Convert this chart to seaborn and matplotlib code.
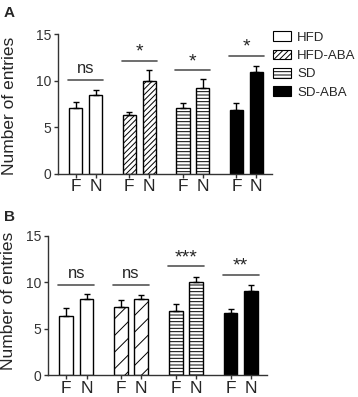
import numpy as np
import pandas as pd
import matplotlib
matplotlib.use("Agg")
import matplotlib.pyplot as plt
from matplotlib.patches import Patch
import seaborn as sns

#%% Daten

groups = ["HFD", "HFD-ABA", "SD", "SD-ABA"]
conds = ["F", "N"]

A_F = [7.1, 6.3, 7.1, 6.9]
A_N = [8.5, 10.0, 9.2, 10.9]
A_F_err = [0.6, 0.3, 0.55, 0.75]
A_N_err = [0.55, 1.15, 1.0, 0.7]
A_sig = ["ns", "*", "*", "*"]
A_sig_y = [10.1, 12.1, 11.1, 12.65]

B_F = [6.35, 7.3, 6.9, 6.7]
B_N = [8.2, 8.2, 10.05, 9.05]
B_F_err = [0.85, 0.75, 0.8, 0.45]
B_N_err = [0.5, 0.45, 0.55, 0.7]
B_sig = ["ns", "ns", "***", "**"]
B_sig_y = [9.7, 9.7, 11.7, 10.75]

yticks = [0, 5, 10, 15]

#%% Stil

sns.set_style("ticks")
plt.rcParams['font.family'] = ['Liberation Sans', 'DejaVu Sans']
plt.rcParams['hatch.linewidth'] = 0.7
axcol = "#333333"

faces = ["white", "white", "white", "black"]
hatchA = [None, "//////", "-----", None]
hatchB = [None, "//", "-----", None]

gap = 2.7
width = 0.67


def make_df(F, N, Fe, Ne):
    rows = []
    for g, grp in enumerate(groups):
        rows.append((grp, "F", g * gap, F[g], Fe[g]))
        rows.append((grp, "N", g * gap + 1, N[g], Ne[g]))
    return pd.DataFrame(rows, columns=["group", "cond", "pos", "mean", "err"])


def panel(ax, df, hatches, sig, sig_y):
    sns.barplot(data=df, x="pos", y="mean", native_scale=True, width=width,
                color="white", edgecolor="black", linewidth=1.0, errorbar=None, ax=ax)
    for i, p in enumerate(ax.patches):
        g = i // 2
        p.set_facecolor(faces[g])
        p.set_edgecolor("black")
        if hatches[g]:
            p.set_hatch(hatches[g])
    ax.errorbar(df["pos"], df["mean"], yerr=[np.zeros(len(df)), df["err"]],
                fmt="none", ecolor="black", elinewidth=1.0, capsize=2.5, capthick=1.0, zorder=1)
    for g in range(len(groups)):
        x0 = g * gap - width / 2 - 0.05
        x1 = g * gap + 1 + width / 2 + 0.05
        ax.plot([x0, x1], [sig_y[g], sig_y[g]], color="#555555", lw=1.2)
        if "*" in sig[g]:
            ax.text((x0 + x1) / 2, sig_y[g] + 0.05, sig[g], ha="center", va="bottom", fontsize=14)
        else:
            ax.text((x0 + x1) / 2, sig_y[g] + 0.45, sig[g], ha="center", va="bottom", fontsize=12)
    ax.set_xlim(-0.9, 3 * gap + 1.8)
    ax.set_ylim(0, 15)
    ax.set_yticks(yticks)
    ax.set_yticklabels([str(t) for t in yticks], fontsize=10, color=axcol)
    ax.set_xticks(df["pos"])
    ax.set_xticklabels(df["cond"], fontsize=12.5)
    ax.set_xlabel("")
    ax.set_ylabel("Number of entries", fontsize=12.5, labelpad=4)
    ax.tick_params(axis="both", length=3, width=1, color=axcol, pad=2)
    ax.tick_params(axis="x", pad=1)
    sns.despine(ax=ax)
    for s in ["left", "bottom"]:
        ax.spines[s].set_color(axcol)
        ax.spines[s].set_linewidth(1)


#%% Abbildung

fig = plt.figure(figsize=(3.58, 3.97), dpi=100)
axA = fig.add_axes([0.162, 0.562, 0.598, 0.352])
axB = fig.add_axes([0.134, 0.055, 0.612, 0.351])

panel(axA, make_df(A_F, A_N, A_F_err, A_N_err), hatchA, A_sig, A_sig_y)
panel(axB, make_df(B_F, B_N, B_F_err, B_N_err), hatchB, B_sig, B_sig_y)
axA.yaxis.set_label_coords(-0.19, 0.49)
axB.yaxis.set_label_coords(-0.145, 0.53)

fig.text(0.01, 0.985, "A", fontsize=11, fontweight="bold", ha="left", va="top")
fig.text(0.01, 0.47, "B", fontsize=11, fontweight="bold", ha="left", va="top")

handles = [Patch(facecolor=faces[g], edgecolor="black", hatch=hatchA[g], lw=0.8, label=groups[g])
           for g in range(len(groups))]
axA.legend(handles=handles, loc="upper left", bbox_to_anchor=(1.0, 1.03), frameon=False,
           fontsize=9.5, handlelength=1.3, handleheight=0.75, handletextpad=0.5,
           labelspacing=0.45, borderaxespad=0, borderpad=0.1)

fig.savefig("out.png", dpi=100)
